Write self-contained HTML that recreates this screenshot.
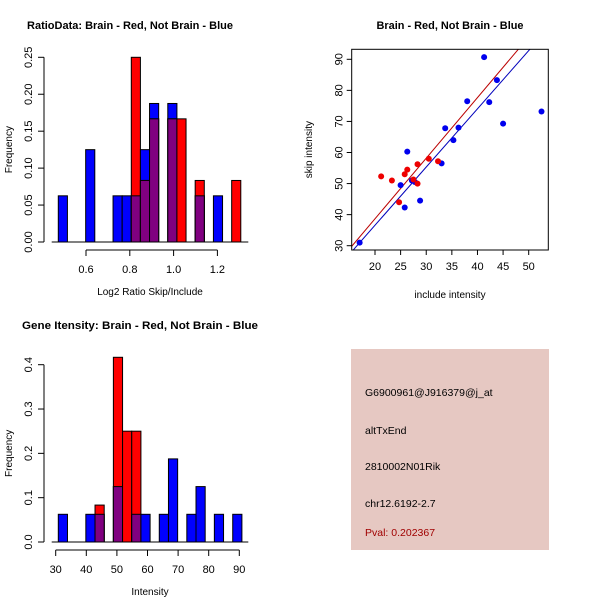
<!DOCTYPE html>
<html><head><meta charset="utf-8"><style>
html,body{margin:0;padding:0;background:#fff;}
svg{display:block;font-family:"Liberation Sans",sans-serif;}
</style></head><body>
<svg id="c" width="600" height="600" viewBox="0 0 600 600" xmlns="http://www.w3.org/2000/svg">
<rect width="600" height="600" fill="#fff"/>
<text x="130" y="29" text-anchor="middle" font-size="11" font-weight="bold" textLength="206" lengthAdjust="spacingAndGlyphs">RatioData: Brain - Red, Not Brain - Blue</text>
<text x="450" y="29" text-anchor="middle" font-size="11" font-weight="bold" textLength="147" lengthAdjust="spacingAndGlyphs">Brain - Red, Not Brain - Blue</text>
<text x="140" y="329" text-anchor="middle" font-size="11" font-weight="bold" textLength="236" lengthAdjust="spacingAndGlyphs">Gene Itensity: Brain - Red, Not Brain - Blue</text>
<g>
<rect x="351" y="349" width="198" height="201" fill="#e6c8c2"/>
<text x="365" y="396" font-size="10.5">G6900961@J916379@j_at</text>
<text x="365" y="434" font-size="10.5">altTxEnd</text>
<text x="365" y="470" font-size="10.5">2810002N01Rik</text>
<text x="365" y="507" font-size="10.5">chr12.6192-2.7</text>
<text x="365" y="536" font-size="10.5" fill="#a00000">Pval: 0.202367</text>
</g>
</svg>
<script>
// ---- Ratio histogram data ----
const ratioBinStart = 0.4735, ratioBinWidth = 1/24;
const ratioBlue = [0.0625,0,0,0.125,0,0,0.0625,0.0625,0.0625,0.125,0.1875,0,0.1875,0,0,0.0625,0,0.0625,0,0];
const ratioRed  = [0,0,0,0,0,0,0,0,0.25,0.0833,0.1667,0,0.1667,0.1667,0,0.0833,0,0,0,0.0833];
const ratioXTicks = [0.6,0.8,1.0,1.2];
const ratioXTickLabels = ["0.6","0.8","1.0","1.2"];
const ratioYTicks = [0,0.05,0.10,0.15,0.20,0.25];
const ratioYTickLabels = ["0.00","0.05","0.10","0.15","0.20","0.25"];
// ---- Intensity histogram data ----
const intBinStart = 30.85, intBinWidth = 3;
const intBlue = [0.0625,0,0,0.0625,0.0625,0,0.125,0,0.0625,0.0625,0,0.0625,0.1875,0,0.0625,0.125,0,0.0625,0,0.0625];
const intRed  = [0,0,0,0,0.0833,0,0.4167,0.25,0.25,0,0,0,0,0,0,0,0,0,0,0];
const intXTicks = [30,40,50,60,70,80,90];
const intYTicks = [0,0.1,0.2,0.3,0.4];
const intYTickLabels = ["0.0","0.1","0.2","0.3","0.4"];
// ---- Scatter data ----
const blueX = [17,25,25.8,26.3,27.2,27.8,28.8,33,33.7,35.3,36.3,38,41.3,42.3,43.8,45,52.5];
const blueY = [31,49.5,42.3,60.3,51,50.5,44.5,56.5,67.8,64,68,76.5,90.7,76.2,83.3,69.3,73.2];
const redX = [21.2,23.3,24.7,25.8,26.3,27.5,28.3,28.3,30.5,32.3];
const redY = [52.3,51,44,53,54.5,51.3,50,56.2,58,57.2];
const redFit = [-0.33,1.95];   // intercept, slope
const blueFit = [-0.9,1.874];
const scXTicks = [20,25,30,35,40,45,50];
const scYTicks = [30,40,50,60,70,80,90];

const NS="http://www.w3.org/2000/svg";
const svg=document.getElementById('c');
function mk(tag,attrs,parent){const e=document.createElementNS(NS,tag);for(const k in attrs)e.setAttribute(k,attrs[k]);(parent||svg).appendChild(e);return e;}

function hist(o){
  const g=mk('g',{});
  
  
  const sx=v=>o.x0+(v-o.d0)*o.kx, sy=v=>o.y0-v*o.ky;
  for(let i=0;i<o.blue.length;i++){
    const a=o.bs+i*o.bw, b=a+o.bw, bl=o.blue[i], rd=o.red[i];
    const x=sx(a), w=sx(b)-sx(a);
    if(bl>0){const r=mk('rect',{x:x,y:sy(bl),width:w,height:sy(0)-sy(bl),fill:'#0000ff',stroke:'#000','stroke-width':1},g);
      }
    if(rd>0){const r=mk('rect',{x:x,y:sy(rd),width:w,height:sy(0)-sy(rd),fill:'#ff0000',stroke:'#000','stroke-width':1},g);
      }
    if(bl>0&&rd>0){const m=Math.min(bl,rd);const r=mk('rect',{x:x,y:sy(m),width:w,height:sy(0)-sy(m),fill:'#800080',stroke:'#000','stroke-width':1},g);
      }
  }
  mk('line',{x1:o.baseL,x2:o.baseR,y1:o.y0,y2:o.y0,stroke:'#000'},g);
  const ax=mk('g',{},g);
  
  const xa=o.y0+8;
  mk('line',{x1:sx(o.xt[0]),x2:sx(o.xt[o.xt.length-1]),y1:xa,y2:xa,stroke:'#000'},ax);
  o.xt.forEach((t,i)=>{mk('line',{x1:sx(t),x2:sx(t),y1:xa,y2:xa+6,stroke:'#000'},ax);
    const tx=mk('text',{x:sx(t),y:xa+23,'text-anchor':'middle','font-size':11},ax);tx.textContent=o.xl[i];
    });
  const xt=mk('text',{x:(o.baseL+o.baseR)/2,y:o.y0+53,'text-anchor':'middle','font-size':10},g);xt.textContent=o.xtitle;
  
  const ay=mk('g',{},g);
  
  const yx=o.x0axis;
  mk('line',{x1:yx,x2:yx,y1:sy(o.yt[0]),y2:sy(o.yt[o.yt.length-1]),stroke:'#000'},ay);
  o.yt.forEach((t,i)=>{mk('line',{x1:yx-6,x2:yx,y1:sy(t),y2:sy(t),stroke:'#000'},ay);
    const tx=mk('text',{x:0,y:0,'text-anchor':'middle','font-size':11,transform:`translate(${yx-12},${sy(t)}) rotate(-90)`},ay);tx.textContent=o.yl[i];
    });
  const yt=mk('text',{x:0,y:0,'text-anchor':'middle','font-size':10,transform:`translate(${12},${(sy(0)+sy(o.yt[o.yt.length-1]))/2}) rotate(-90)`},g);yt.textContent='Frequency';
  
}
hist({name:'ratio-histogram',blue:ratioBlue,red:ratioRed,bs:ratioBinStart,bw:ratioBinWidth,
  x0:86,d0:0.6,kx:219,y0:242,ky:(242-57.3)/0.25,baseL:51.7,baseR:248.3,x0axis:44,
  xt:ratioXTicks,xl:ratioXTickLabels,yt:ratioYTicks,yl:ratioYTickLabels,xtitle:'Log2 Ratio Skip/Include'});
hist({name:'intensity-histogram',blue:intBlue,red:intRed,bs:intBinStart,bw:intBinWidth,
  x0:55.7,d0:30,kx:(239.3-55.7)/60,y0:542,ky:(542-364.7)/0.4,baseL:51.7,baseR:248.3,x0axis:44,
  xt:intXTicks,xl:intXTicks.map(String),yt:intYTicks,yl:intYTickLabels,xtitle:'Intensity'});

(function(){
  const L=351.7,R=548.3,T=49.3,B=250;
  const sx=v=>375+(v-20)*(528.7-375)/30, sy=v=>59.3+(90-v)*(245.7-59.3)/60;
  const g=mk('g',{});
  
  mk('defs',{}).innerHTML='<clipPath id="cp"><rect x="'+L+'" y="'+T+'" width="'+(R-L)+'" height="'+(B-T)+'"/></clipPath>';
  const fits=[[redFit,'#bb0000','red-fit-line'],[blueFit,'#0000bb','blue-fit-line']];
  fits.forEach(([f,c,n])=>{const x1=10,x2=60;
    const l=mk('line',{x1:sx(x1),y1:sy(f[0]+f[1]*x1),x2:sx(x2),y2:sy(f[0]+f[1]*x2),stroke:c,'stroke-width':1,'clip-path':'url(#cp)'},g);
    });
  blueX.forEach((x,i)=>{const p=mk('circle',{cx:sx(x),cy:sy(blueY[i]),r:3,fill:'#0000ee'},g);
    });
  redX.forEach((x,i)=>{const p=mk('circle',{cx:sx(x),cy:sy(redY[i]),r:3,fill:'#ee0000'},g);
    });
  mk('rect',{x:L,y:T,width:R-L,height:B-T,fill:'none',stroke:'#000'},g);
  const ax=mk('g',{},g);
  scXTicks.forEach(t=>{mk('line',{x1:sx(t),x2:sx(t),y1:B,y2:B+5,stroke:'#000'},ax);
    const tx=mk('text',{x:sx(t),y:B+20,'text-anchor':'middle','font-size':11},ax);tx.textContent=t;
    });
  const ay=mk('g',{},g);
  scYTicks.forEach(t=>{mk('line',{x1:L-5,x2:L,y1:sy(t),y2:sy(t),stroke:'#000'},ay);
    const tx=mk('text',{x:0,y:0,'text-anchor':'middle','font-size':11,transform:`translate(${L-9},${sy(t)}) rotate(-90)`},ay);tx.textContent=t;
    });
  const xt=mk('text',{x:(L+R)/2,y:298,'text-anchor':'middle','font-size':10},g);xt.textContent='include intensity';
  
  const yt=mk('text',{x:0,y:0,'text-anchor':'middle','font-size':10,transform:`translate(312,${(T+B)/2}) rotate(-90)`},g);yt.textContent='skip intensity';
  
})();
</script>
</body></html>
